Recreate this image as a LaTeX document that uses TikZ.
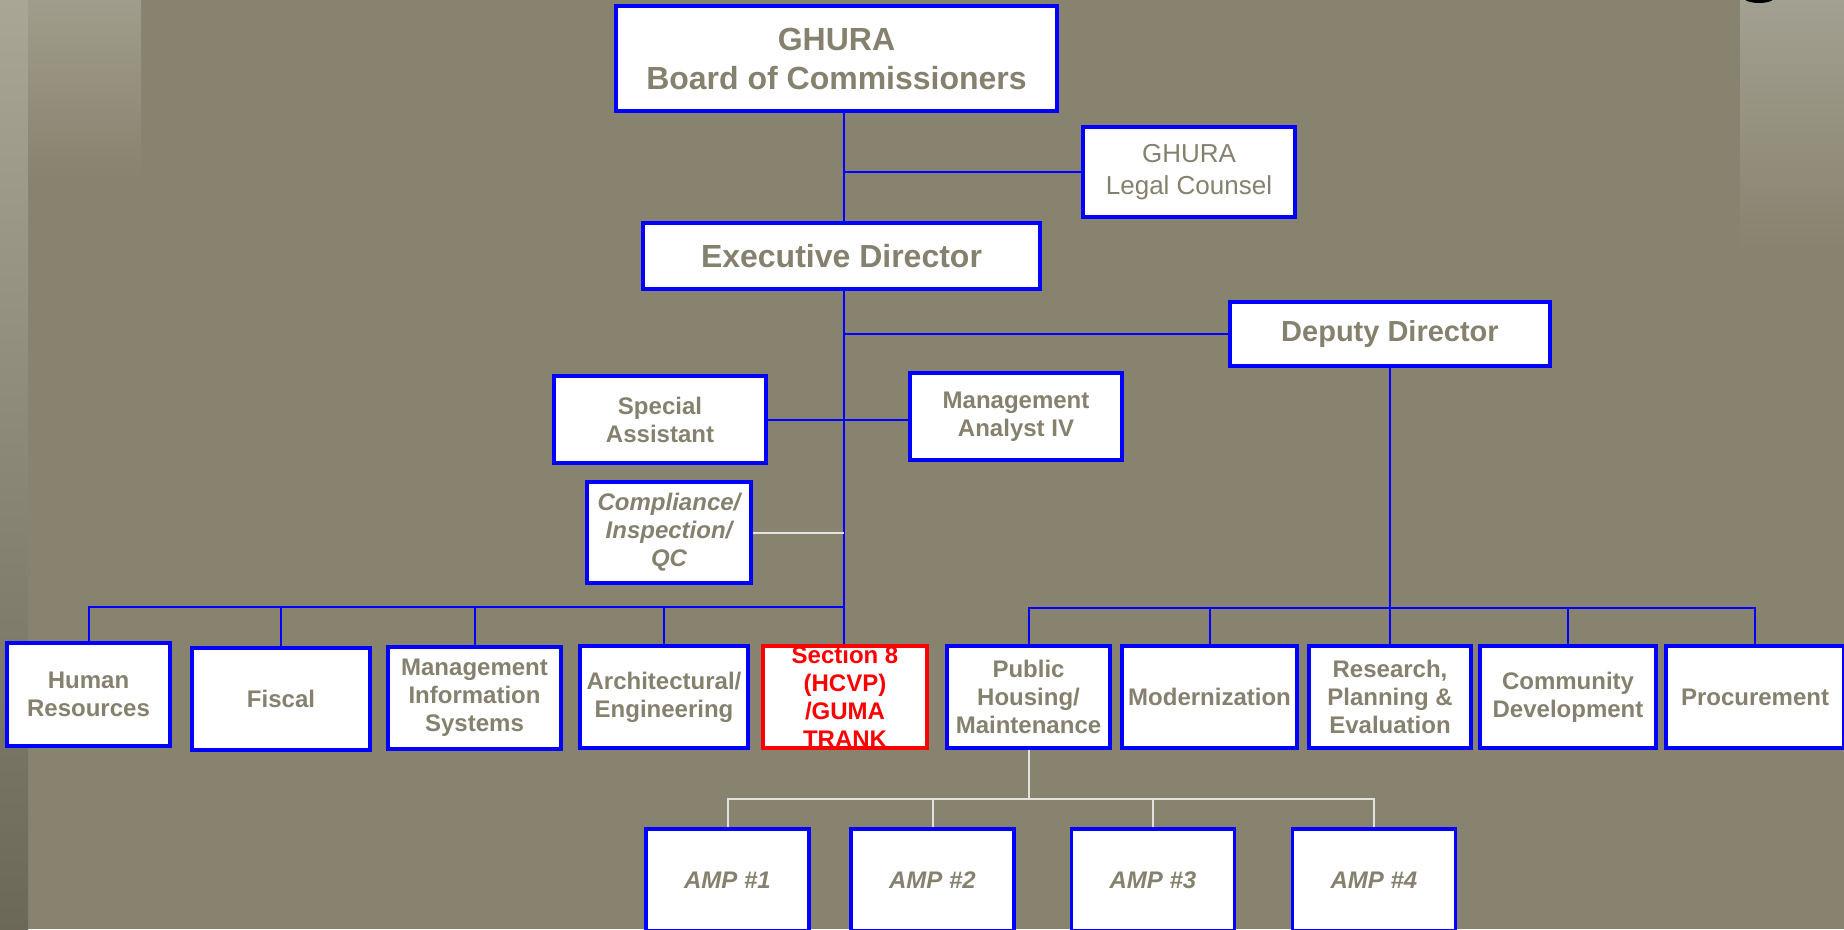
\documentclass[tikz,border=0pt]{standalone}
\usepackage{fontspec}
\setmainfont{Liberation Sans}
\definecolor{ghbg}{RGB}{136,131,110}
\definecolor{ghtext}{RGB}{134,129,110}
\definecolor{stripA}{RGB}{170,166,150}
\definecolor{stripM}{RGB}{160,155,138}
\definecolor{stripD}{RGB}{108,104,88}
\definecolor{stripB}{RGB}{160,157,140}
\definecolor{stripR}{RGB}{162,160,145}
\definecolor{paleline}{RGB}{226,226,222}

\begin{document}
\begin{tikzpicture}[x=1pt, y=-1pt,
  unit/.style = {draw=blue, line width=3.2pt, fill=white, inner sep=0pt, align=center, text=ghtext, font=\bfseries\fontsize{24}{28}\selectfont, minimum height=102pt},
  amp/.style = {unit, minimum width=163pt, font=\bfseries\itshape\fontsize{24}{28}\selectfont},
  link/.style = {draw=blue, line width=2pt},
  pale/.style = {draw=paleline, line width=2pt}]
		\useasboundingbox (0,0) rectangle (1844,929);
		\fill[ghbg] (0,0) rectangle (1844,929);
		\shade[top color=stripA, middle color=stripM, bottom color=stripD] (0,0) rectangle (28,929);
		\shade[top color=stripB, bottom color=ghbg] (28,0) rectangle (141,178);
		\shade[top color=stripR, bottom color=ghbg] (1740,0) rectangle (1844,250);
		\fill[black] (1759,-4) ellipse [x radius=17pt, y radius=7pt];

		\node[unit, minimum width=441pt, minimum height=105pt, font=\bfseries\fontsize{32}{39}\selectfont] (board) at (836.5,58.5) {GHURA\\Board of Commissioners};
		\node[unit, minimum width=212pt, minimum height=90pt, font=\fontsize{26}{32}\selectfont] (legal) at (1189,172) {GHURA\\Legal Counsel};
		\node[unit, minimum width=397pt, minimum height=66pt, font=\bfseries\fontsize{32}{38}\selectfont] (exec) at (841.5,256) {Executive Director};
		\node[unit, minimum width=320pt, minimum height=64pt, font=\bfseries\fontsize{29}{34}\selectfont] (deputy) at (1390,334) {Deputy Director};
		\node[unit, minimum width=212pt, minimum height=87pt] (special) at (660,419.5) {Special\\Assistant};
		\node[unit, minimum width=212pt, minimum height=87pt] (analyst) at (1016,416.5) {Management\\Analyst IV};
		\node[unit, minimum width=164pt, minimum height=101pt, font=\bfseries\itshape\fontsize{24}{28}\selectfont] (compliance) at (669,532.5) {Compliance/\\Inspection/\\QC};

		\node[unit, minimum width=163pt, minimum height=103pt] (hr) at (88.5,694.5) {Human\\Resources};
		\node[unit, minimum width=178pt] (fiscal) at (281,699) {Fiscal};
		\node[unit, minimum width=173pt] (mis) at (474.5,698) {Management\\Information\\Systems};
		\node[unit, minimum width=168pt] (arch) at (664,697) {Architectural/\\Engineering};
		\node[unit, minimum width=164pt, draw=red] (sec8) at (845,697) {};
		\node[unit, minimum width=163pt] (public) at (1028.5,697) {Public\\Housing/\\Maintenance};
		\node[unit, minimum width=175pt] (modern) at (1209.5,697) {Modernization};
		\node[unit, minimum width=162pt] (research) at (1390,697) {Research,\\Planning \&\\Evaluation};
		\node[unit, minimum width=176pt] (community) at (1568,697) {Community\\Development};
		\node[unit, minimum width=178pt] (procure) at (1755,697) {Procurement};
		\begin{scope}
			\clip (sec8.south west) rectangle (sec8.north east);
			\node[anchor=north, inner sep=0pt, align=center, text=red, font=\bfseries\fontsize{24}{28}\selectfont] (sec8txt) at ([yshift=-1pt]sec8.north) {Section 8\\(HCVP)\\/GUMA\\TRANK};
		\end{scope}

		\foreach \i/\x in {1/727.5, 2/932.5, 3/1153, 4/1374}
			\node[amp] (amp\i) at (\x,880) {AMP \#\i};

		\coordinate (spine) at (844,0);
		\coordinate (lbus) at (0,607);
		\coordinate (rbus) at (0,608);
		\coordinate (abus) at (0,799);

		\draw[link] (spine |- board.south) -- (spine |- exec.north);
		\draw[link] (spine |- legal.west) -- (legal.west);
		\draw[link] (spine |- exec.south) -- (spine |- sec8.north);
		\draw[link] (spine |- deputy.west) -- (deputy.west);
		\draw[link] (special.east) -- (special.east -| analyst.west);
		\draw[pale] (compliance.east) -- (compliance.east -| spine);
		\draw[link] (hr.north) |- (lbus -| spine);
		\foreach \n in {fiscal, mis, arch}
			\draw[link] (\n.north) -- (\n.north |- lbus);
		\draw[link] (deputy.south) -- (research.north);
		\draw[link] (public.north) |- (rbus -| procure.north) -- (procure.north);
		\foreach \n in {modern, community}
			\draw[link] (\n.north) -- (\n.north |- rbus);
		\draw[pale] (public.south) -- (public.south |- abus);
		\draw[pale] (amp1.north) |- (abus -| amp4.north) -- (amp4.north);
		\foreach \n in {amp2, amp3}
			\draw[pale] (\n.north) -- (\n.north |- abus);
\end{tikzpicture}
\end{document}
